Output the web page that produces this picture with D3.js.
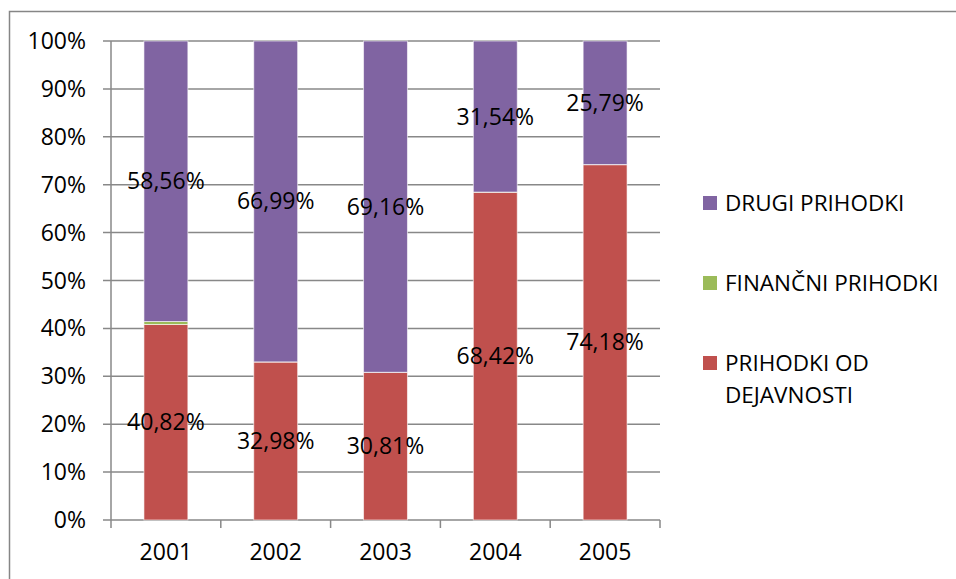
<!DOCTYPE html>
<html>
<head>
<meta charset="utf-8">
<script src="https://cdn.jsdelivr.net/npm/d3@7/dist/d3.min.js"></script>
<style>
  html, body { margin: 0; padding: 0; background: #fff; }
  svg { display: block; }
  text { font-family: "Open Sans", "Noto Sans", sans-serif; fill: #000; }
</style>
</head>
<body>
<div id="chart"></div>
<script>
// chart data (percent shares)
const years = ["2001", "2002", "2003", "2004", "2005"];
const prihodkiOdDejavnosti = [40.82, 32.98, 30.81, 68.42, 74.18];
const financniPrihodki = [0.62, 0.03, 0.03, 0.04, 0.03];
const drugiPrihodki = [58.56, 66.99, 69.16, 31.54, 25.79];
const yTicks = [0, 10, 20, 30, 40, 50, 60, 70, 80, 90, 100];

// stack order bottom -> top
const series = [
    { name: "PRIHODKI OD DEJAVNOSTI", values: prihodkiOdDejavnosti, color: "#C0504D", label: true },
    { name: "FINANČNI PRIHODKI", values: financniPrihodki, color: "#9BBB59", label: false },
    { name: "DRUGI PRIHODKI", values: drugiPrihodki, color: "#8064A2", label: true }
];
// legend order top -> bottom
const legendOrder = ["DRUGI PRIHODKI", "FINANČNI PRIHODKI", ["PRIHODKI OD", "DEJAVNOSTI"]];

const width = 956, height = 579;
const margin = { left: 111, top: 41, right: 296, bottom: 59 };
const plotW = width - margin.left - margin.right;
const plotH = height - margin.top - margin.bottom;

const svg = d3.select("#chart").append("svg")
    .attr("width", width)
    .attr("height", height);

// outer chart frame
svg.append("rect")
    .attr("x", 9.5).attr("y", 11.5)
    .attr("width", width + 20).attr("height", height + 20)
    .attr("fill", "none")
    .attr("stroke", "#868686")
    .attr("stroke-width", 1.5);

const g = svg.append("g").attr("transform", `translate(${margin.left},${margin.top})`);

const x = d3.scaleBand().domain(years).range([0, plotW]).paddingInner(0.6).paddingOuter(0.3);
const xBand = d3.scaleBand().domain(years).range([0, plotW]);
const y = d3.scaleLinear().domain([0, 100]).range([plotH, 0]);

// gridlines
g.selectAll(".grid")
    .data(yTicks)
    .enter().append("line")
    .attr("x1", -8).attr("x2", plotW)
    .attr("y1", d => y(d)).attr("y2", d => y(d))
    .attr("stroke", "#888")
    .attr("stroke-width", 1.5);

// y axis line
g.append("line")
    .attr("x1", 0).attr("x2", 0)
    .attr("y1", 0).attr("y2", plotH)
    .attr("stroke", "#888").attr("stroke-width", 1.5);

// x axis ticks at category boundaries
const boundaries = years.map(d => xBand(d)).concat([plotW]);
g.selectAll(".xtick")
    .data(boundaries)
    .enter().append("line")
    .attr("x1", d => d).attr("x2", d => d)
    .attr("y1", plotH).attr("y2", plotH + 8)
    .attr("stroke", "#888").attr("stroke-width", 1.5);

// y tick labels
g.selectAll(".ylab")
    .data(yTicks)
    .enter().append("text")
    .attr("x", -25)
    .attr("y", d => y(d) + 8)
    .attr("text-anchor", "end")
    .style("font-size", "23px")
    .text(d => d + "%");

// x tick labels
g.selectAll(".xlab")
    .data(years)
    .enter().append("text")
    .attr("x", d => xBand(d) + xBand.bandwidth() / 2)
    .attr("y", plotH + 40)
    .attr("text-anchor", "middle")
    .style("font-size", "23px")
    .text(d => d);

// stack
const rows = years.map((yr, i) => {
    const r = { year: yr };
    series.forEach(s => { r[s.name] = s.values[i]; });
    return r;
});
const stack = d3.stack().keys(series.map(s => s.name))(rows);

const layers = g.selectAll(".layer")
    .data(stack)
    .enter().append("g")
    .attr("fill", (d, i) => series[i].color);

layers.selectAll("rect")
    .data(d => d)
    .enter().append("rect")
    .attr("x", d => x(d.data.year))
    .attr("width", x.bandwidth())
    .attr("y", d => y(d[1]))
    .attr("height", d => y(d[0]) - y(d[1]))
    .attr("stroke", "rgba(255,255,255,0.6)")
    .attr("stroke-width", 1);

// value labels
const fmt = v => v.toFixed(2).replace(".", ",") + "%";
stack.forEach((layer, i) => {
    if (!series[i].label) return;
    g.selectAll(".vl" + i)
        .data(layer)
        .enter().append("text")
        .attr("x", d => x(d.data.year) + x.bandwidth() / 2)
        .attr("y", d => y((d[0] + d[1]) / 2) + 8)
        .attr("text-anchor", "middle")
        .style("font-size", "23px")
        .text(d => fmt(d[1] - d[0]));
});

// legend
const legendColors = ["#8064A2", "#9BBB59", "#C0504D"];
const legendY = [203, 283, 363];
legendOrder.forEach((name, i) => {
    svg.append("rect")
        .attr("x", 703).attr("y", legendY[i] - 7)
        .attr("width", 14).attr("height", 14)
        .attr("fill", legendColors[i]);
    const lines = Array.isArray(name) ? name : [name];
    const t = svg.append("text")
        .attr("x", 725)
        .attr("y", legendY[i] + 8)
        .style("font-size", "22.5px");
    lines.forEach((ln, j) => {
        t.append("tspan").attr("x", 725).attr("dy", j === 0 ? 0 : 32).text(ln);
    });
});
</script>
</body>
</html>
